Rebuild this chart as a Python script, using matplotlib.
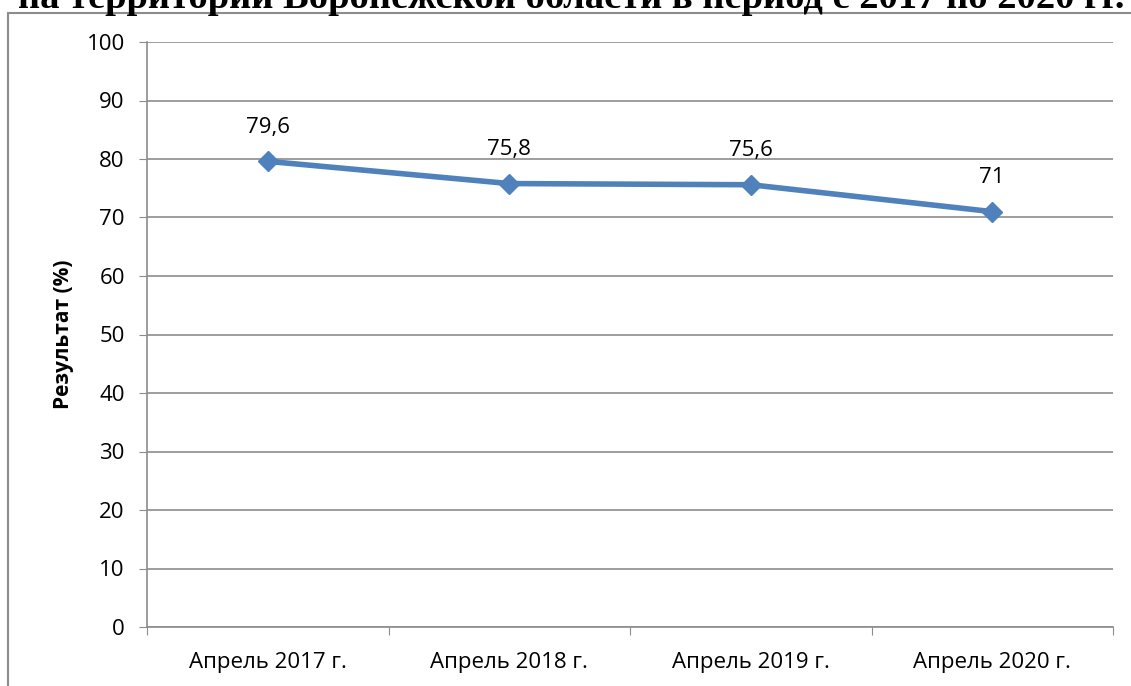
import matplotlib.pyplot as plt
from matplotlib.patches import Rectangle

# Data
periods = ['Апрель 2017 г.', 'Апрель 2018 г.', 'Апрель 2019 г.', 'Апрель 2020 г.']
results = [79.6, 75.8, 75.6, 71]
value_labels = ['79,6', '75,8', '75,6', '71']
y_ticks = list(range(0, 101, 10))

W, H = 1131, 686
fig = plt.figure(figsize=(W / 100, H / 100), dpi=100)
fig.patch.set_facecolor('white')

# outer chart frame (right and bottom edges are cut off)
fig.add_artist(Rectangle((8 / W, -0.1), 1.2, (H - 13) / H + 0.1,
                         transform=fig.transFigure, fill=False,
                         edgecolor='#8c8c8c', linewidth=1.5))

# title, cropped at the top
fig.text(18 / W, 1 - 8 / H,
         'на территории Воронежской области в период с 2017 по 2020 гг.',
         family='Liberation Serif', fontweight='bold', fontsize=27.7,
         ha='left', va='baseline')

ax = fig.add_axes([147 / W, 1 - 627 / H, (1113 - 147) / W, (627 - 42) / H])
x = range(len(periods))
ax.plot(x, results, color='#4F81BD', linewidth=4, marker='D',
        markersize=10, markerfacecolor='#4F81BD', markeredgecolor='#4F81BD')
for xi, v, lab in zip(x, results, value_labels):
    ax.annotate(lab, (xi, v), xytext=(0, 17), textcoords='offset points',
                ha='center', va='bottom', fontsize=16, family='Open Sans')

ax.set_xlim(-0.5, len(periods) - 0.5)
ax.set_ylim(0, 100)
ax.set_yticks(y_ticks)
ax.set_yticklabels([str(t) for t in y_ticks], family='Open Sans', fontsize=16)
ax.set_xticks([i - 0.5 for i in range(len(periods) + 1)], minor=False)
ax.set_xticklabels([])
ax.set_xticks(list(x), minor=True)
ax.set_xticklabels(periods, minor=True, family='Open Sans', fontsize=16)
ax.tick_params(axis='x', which='major', length=6, color='#8c8c8c', direction='out')
ax.tick_params(axis='x', which='minor', length=0, pad=18)
ax.tick_params(axis='y', length=6, color='#8c8c8c', pad=10)

ax.yaxis.grid(True, color='#8c8c8c', linewidth=1.2)
ax.set_axisbelow(True)
for side in ['top', 'right']:
    ax.spines[side].set_visible(False)
for side in ['left', 'bottom']:
    ax.spines[side].set_color('#8c8c8c')
    ax.spines[side].set_linewidth(1.2)

ax.set_ylabel('Результат (%)', family='Open Sans', fontweight='bold',
              fontsize=15, labelpad=9)

fig.savefig('out.png', dpi=100)
